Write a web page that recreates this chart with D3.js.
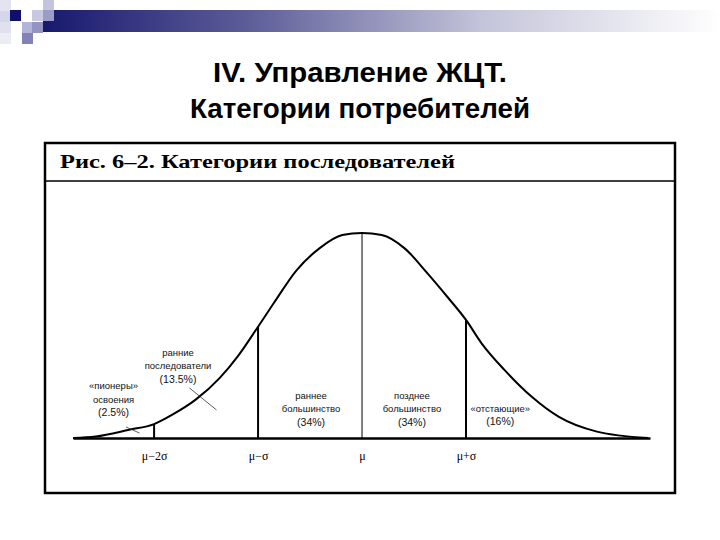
<!DOCTYPE html>
<html>
<head>
<meta charset="utf-8">
<script src="https://cdn.jsdelivr.net/npm/d3@7"></script>
<style>
  body { margin: 0; background: #fff; }
  svg { display: block; }
</style>
</head>
<body>
<svg id="chart" width="720" height="540"></svg>
<script>
// curve: position in sigma units, height as share of the peak
var curveX = [-2.78, -2.56, -2.24, -2.0, -1.82, -1.6, -1.37, -1.19, -1.0, -0.85, -0.63, -0.41, -0.19,
              0, 0.19, 0.41, 0.63, 0.82, 1.0, 1.15, 1.37, 1.63, 1.89, 2.26, 2.75];
var curveY = [0, 0.007, 0.04, 0.068, 0.115, 0.187, 0.292, 0.402, 0.543, 0.657, 0.818, 0.925, 0.99,
              1, 0.99, 0.925, 0.803, 0.689, 0.576, 0.462, 0.332, 0.202, 0.104, 0.031, 0];
var axisExtent = [-2.78, 2.77];
var tickValues = [-2, -1, 0, 1];
var tickLabels = ["μ−2σ", "μ−σ", "μ", "μ+σ"];
var categories = [["«пионеры»", "освоения"], ["ранние", "последователи"],
                  ["раннее", "большинство"], ["позднее", "большинство"], ["«отстающие»"]];
var shares = ["2.5%", "13.5%", "34%", "34%", "16%"];

var svg = d3.select("#chart");

// slide decoration: little squares and a fading bar
var defs = svg.append("defs");
var grad = defs.append("linearGradient").attr("id", "bar");
grad.append("stop").attr("offset", "0%").attr("stop-color", "#18186e");
grad.append("stop").attr("offset", "30%").attr("stop-color", "#5c5c98");
grad.append("stop").attr("offset", "65%").attr("stop-color", "#c4c4da");
grad.append("stop").attr("offset", "100%").attr("stop-color", "#ffffff");
svg.append("rect").attr("x", 43).attr("y", 10).attr("width", 677).attr("height", 22).attr("fill", "url(#bar)");

var squares = [
  [0, 0, "#e4e4f0"], [0, 11, "#d6d6ea"], [0, 22, "#e0e0ee"], [0, 33, "#ececf4"],
  [10, 10, "#10106c"], [22, 22, "#b4b4d8"], [22, 33, "#8282b8"],
  [32, 10, "#c8c8e2"], [32, 22, "#9494c4"], [43, 0, "#c4c4de"], [43, 10, "#9c9cc8"]
];
svg.selectAll("rect.sq").data(squares).enter().append("rect")
  .attr("class", "sq")
  .attr("x", function(d) { return d[0]; })
  .attr("y", function(d) { return d[1]; })
  .attr("width", 11).attr("height", 11)
  .attr("fill", function(d) { return d[2]; });

// slide title
var title = ["IV. Управление ЖЦТ.", "Категории потребителей"];
svg.selectAll("text.title").data(title).enter().append("text")
  .attr("class", "title")
  .attr("x", 360)
  .attr("y", function(d, i) { return 82 + i * 36; })
  .attr("text-anchor", "middle")
  .attr("font-family", "Liberation Sans, Arial, sans-serif")
  .attr("font-weight", "bold")
  .attr("font-size", 28)
  .attr("textLength", function(d, i) { return i ? 340 : 294; })
  .attr("lengthAdjust", "spacingAndGlyphs")
  .text(function(d) { return d; });

// figure frame
svg.append("rect").attr("x", 45).attr("y", 143).attr("width", 630).attr("height", 350)
  .attr("fill", "none").attr("stroke", "#000").attr("stroke-width", 2.5);
svg.append("line").attr("x1", 45).attr("x2", 675).attr("y1", 181).attr("y2", 181)
  .attr("stroke", "#000").attr("stroke-width", 1.5);
svg.append("text")
  .attr("x", 60).attr("y", 168)
  .attr("font-family", "Liberation Serif, Times New Roman, serif")
  .attr("font-weight", "bold")
  .attr("font-size", 19)
  .attr("textLength", 395)
  .attr("lengthAdjust", "spacingAndGlyphs")
  .text("Рис. 6–2. Категории последователей");

// scales
var x = d3.scaleLinear().domain(axisExtent).range([73, 650]);
var y = d3.scaleLinear().domain([0, 1]).range([438, 233]);

var pts = curveX.map(function(v, i) { return { u: v, h: curveY[i] }; });

// dividers at the sigma marks
svg.selectAll("line.div").data(pts.filter(function(d) { return tickValues.indexOf(d.u) >= 0; }))
  .enter().append("line")
  .attr("class", "div")
  .attr("x1", function(d) { return x(d.u); })
  .attr("x2", function(d) { return x(d.u); })
  .attr("y1", y(0))
  .attr("y2", function(d) { return y(d.h); })
  .attr("stroke", "#000")
  .attr("stroke-width", function(d) { return d.u === 0 ? 1 : 2; });

// the bell curve
var line = d3.line()
  .x(function(d) { return x(d.u); })
  .y(function(d) { return y(d.h); })
  .curve(d3.curveMonotoneX);
svg.append("path").datum(pts)
  .attr("d", line)
  .attr("fill", "none")
  .attr("stroke", "#000")
  .attr("stroke-width", 2);

// axis
var axis = d3.axisBottom(x)
  .tickValues(tickValues)
  .tickFormat(function(d, i) { return tickLabels[i]; })
  .tickSize(0)
  .tickPadding(13);
var ag = svg.append("g").attr("transform", "translate(0," + y(0) + ")").call(axis);
ag.select(".domain").attr("stroke-width", 2.5);
ag.selectAll("text")
  .attr("font-family", "Liberation Serif, Times New Roman, serif")
  .attr("font-size", 12)
  .attr("fill", "#000");

// category labels (position in sigma units, baseline of first line)
var labelPos = [[-2.39, 389], [-1.77, 355.5], [-0.49, 398.5], [0.48, 398.5], [1.33, 411.5]];
categories.forEach(function(lines, i) {
  var rows = lines.concat(["(" + shares[i] + ")"]);
  svg.append("g").selectAll("text").data(rows).enter().append("text")
    .attr("x", x(labelPos[i][0]))
    .attr("y", function(d, j) { return labelPos[i][1] + j * 13.5; })
    .attr("text-anchor", "middle")
    .attr("font-family", "Liberation Sans, Arial, sans-serif")
    .attr("font-size", function(d, j) { return j === rows.length - 1 ? 10.5 : 9.5; })
    .attr("fill", "#111")
    .text(function(d) { return d; });
});

// leader strokes across the curve
var leaders = [[-1.66, 0.244, -1.40, 0.137], [-2.27, 0.054, -2.14, 0.024]];
svg.selectAll("line.lead").data(leaders).enter().append("line")
  .attr("class", "lead")
  .attr("x1", function(d) { return x(d[0]); })
  .attr("y1", function(d) { return y(d[1]); })
  .attr("x2", function(d) { return x(d[2]); })
  .attr("y2", function(d) { return y(d[3]); })
  .attr("stroke", "#333")
  .attr("stroke-width", 0.8);
</script>
</body>
</html>
